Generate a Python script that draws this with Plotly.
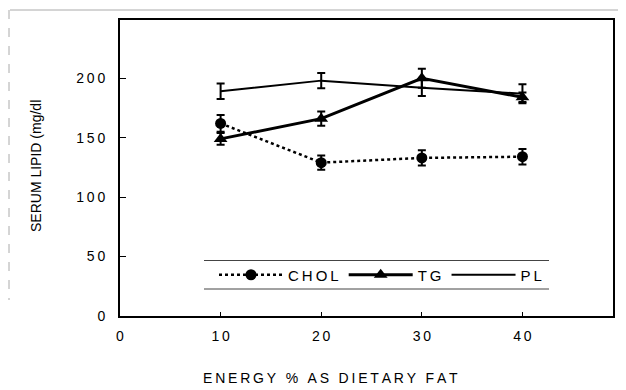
import plotly.graph_objects as go

energy = [10, 20, 30, 40]
chol = [162, 129, 133, 134]
chol_err = [7, 6, 6.5, 6.5]
tg = [149, 166, 200, 184]
tg_err = [5, 6, 8, 4]
pl = [189, 198, 192, 187]
pl_err = [6.5, 6.5, 7, 8]

x_ticks = [0, 10, 20, 30, 40]
y_ticks = [0, 50, 100, 150, 200]

TS = "\u2009"
def spaced(s):
    return TS.join(list(s))

fig = go.Figure()
fig.add_trace(go.Scatter(
    x=energy, y=chol, name=spaced("CHOL"), mode="lines+markers",
    line=dict(color="black", width=2.5, dash="dot"),
    marker=dict(symbol="circle", size=11, color="black"),
    error_y=dict(type="data", array=chol_err, color="black", thickness=2, width=4),
))
fig.add_trace(go.Scatter(
    x=energy, y=tg, name=spaced("TG"), mode="lines+markers",
    line=dict(color="black", width=3),
    marker=dict(symbol="triangle-up", size=12, color="black"),
    error_y=dict(type="data", array=tg_err, color="black", thickness=2, width=4),
))
fig.add_trace(go.Scatter(
    x=energy, y=pl, name=spaced("PL"), mode="lines",
    line=dict(color="black", width=2),
    error_y=dict(type="data", array=pl_err, color="black", thickness=2, width=4),
))

font = dict(family="Liberation Sans, Arial, sans-serif", size=14, color="black")

# page body adds an 8px offset; compensate
OFF = 8
L, R, T, B = 120, 13, 20, 74
PW = 626 - L - R
PH = 390 - T - B

def px(xp):
    return (xp - L) / PW

def py(yp):
    return (T + PH - yp) / PH

fig.update_layout(
    width=626 - OFF, height=390 - OFF,
    margin=dict(l=L - OFF, r=R, t=T - OFF, b=B, autoexpand=False),
    paper_bgcolor="white", plot_bgcolor="white",
    font=font,
    showlegend=True,
    legend=dict(
        orientation="h", x=px(214), xanchor="left", y=py(275), yanchor="middle",
        bgcolor="rgba(0,0,0,0)", font=dict(size=15, color="black"),
        itemwidth=64,
    ),
    xaxis=dict(
        range=[0, 49], tickvals=x_ticks, ticktext=[spaced(str(v)) for v in x_ticks],
        ticks="inside", ticklen=4, tickcolor="black", ticklabelstandoff=6,
        showline=True, linecolor="black", linewidth=2, mirror=True,
        showgrid=False, zeroline=False, tickfont=dict(size=14),
    ),
    yaxis=dict(
        range=[0, 249], tickvals=y_ticks, ticktext=[spaced(str(v)) for v in y_ticks],
        ticks="inside", ticklen=6, tickcolor="black", ticklabelstandoff=10,
        showline=True, linecolor="black", linewidth=2, mirror=True,
        showgrid=False, zeroline=False, tickfont=dict(size=14),
    ),
    annotations=[
        dict(text=spaced("ENERGY % AS DIETARY FAT"), xref="paper", yref="paper",
             x=px(330), y=py(378), xanchor="center", yanchor="middle",
             showarrow=False, font=dict(size=14)),
        dict(text="SERUM LIPID (mg/dl", xref="paper", yref="paper",
             x=px(36), y=py(166), xanchor="center", yanchor="middle",
             textangle=-90, showarrow=False, font=dict(size=14)),
    ],
    shapes=[
        dict(type="line", xref="paper", yref="paper", x0=px(204), x1=px(549), y0=py(260.5), y1=py(260.5),
             line=dict(color="#444", width=1)),
        dict(type="line", xref="paper", yref="paper", x0=px(204), x1=px(549), y0=py(289), y1=py(289),
             line=dict(color="#444", width=1)),
        dict(type="line", xref="paper", yref="paper", x0=px(10), x1=px(626),
             y0=py(10), y1=py(10), line=dict(color="#aaa", width=1)),
        dict(type="line", xref="paper", yref="paper", x0=px(9), x1=px(9),
             y0=py(10), y1=py(300), line=dict(color="#aaa", width=1, dash="dash")),
    ],
)

fig.write_html("out.html")
